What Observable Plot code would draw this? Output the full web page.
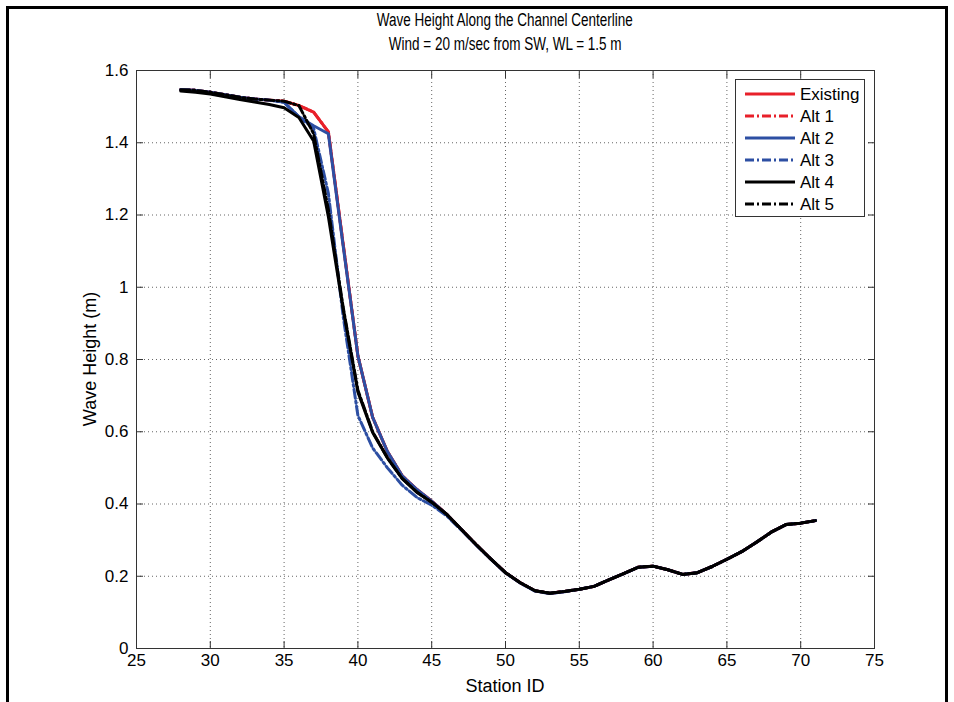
<!DOCTYPE html>
<html><head><meta charset="utf-8">
<script src="https://cdn.jsdelivr.net/npm/d3@7"></script>
<script src="https://cdn.jsdelivr.net/npm/@observablehq/plot@0.6"></script>
<style>
body{margin:0;background:#fff;}
#wrap{position:relative;width:954px;height:702px;overflow:hidden;font-family:"Liberation Sans",Arial,Helvetica,sans-serif;color:#000;}
#frame{position:absolute;left:6px;top:6px;width:936px;height:740px;border:3px solid #000;pointer-events:none;}
#chart{position:absolute;left:0;top:0;}
.title{position:absolute;left:136px;width:738px;text-align:center;font-size:18px;white-space:nowrap;}
.title span{display:inline-block;transform:scaleX(0.75);transform-origin:center;}
#xlab{position:absolute;left:136px;width:738px;top:676px;text-align:center;font-size:18px;}
#ylab{position:absolute;left:90px;top:359px;font-size:18px;white-space:nowrap;transform:translate(-50%,-50%) rotate(-90deg);}
#legend{position:absolute;left:735px;top:79px;width:130px;height:138px;border:1px solid #333;background:#fff;box-sizing:border-box;}
</style></head>
<body><div id="wrap">
<div id="chart"></div>
<div class="title" style="top:10px"><span>Wave Height Along the Channel Centerline</span></div>
<div class="title" style="top:34px"><span>Wind = 20 m/sec from SW, WL = 1.5 m</span></div>
<div id="xlab">Station ID</div>
<div id="ylab">Wave Height (m)</div>
<div id="legend"></div>
<div id="frame"></div>
</div>
<script>
// Station IDs (x)
const stations = [28,29,30,31,32,33,34,35,36,37,38,39,40,41,42,43,44,45,46,47,48,49,50,51,52,53,54,55,56,57,58,59,60,61,62,63,64,65,66,67,68,69,70,71];
// Wave height (m) per alternative
const existing = [1.547,1.545,1.540,1.533,1.526,1.521,1.518,1.515,1.503,1.485,1.430,1.120,0.810,0.640,0.545,0.478,0.440,0.408,0.372,0.330,0.288,0.248,0.210,0.182,0.160,0.153,0.158,0.164,0.172,0.190,0.207,0.225,0.228,0.218,0.205,0.210,0.227,0.247,0.268,0.294,0.322,0.343,0.347,0.354];
const alt1 = [1.547,1.545,1.540,1.533,1.526,1.521,1.518,1.515,1.503,1.485,1.430,1.120,0.810,0.640,0.545,0.478,0.440,0.408,0.372,0.330,0.288,0.248,0.210,0.182,0.160,0.153,0.158,0.164,0.172,0.190,0.207,0.225,0.228,0.218,0.205,0.210,0.227,0.247,0.268,0.294,0.322,0.343,0.347,0.354];
const alt2 = [1.547,1.545,1.540,1.533,1.526,1.521,1.518,1.512,1.472,1.447,1.425,1.115,0.810,0.640,0.545,0.478,0.440,0.408,0.372,0.330,0.288,0.248,0.210,0.182,0.160,0.153,0.158,0.164,0.172,0.190,0.207,0.225,0.228,0.218,0.205,0.210,0.227,0.247,0.268,0.294,0.322,0.343,0.347,0.354];
const alt3 = [1.547,1.545,1.540,1.533,1.526,1.521,1.518,1.512,1.472,1.440,1.260,0.920,0.645,0.555,0.500,0.452,0.418,0.397,0.368,0.328,0.287,0.247,0.209,0.181,0.159,0.152,0.157,0.164,0.172,0.190,0.207,0.225,0.228,0.218,0.205,0.210,0.227,0.247,0.268,0.294,0.322,0.343,0.347,0.354];
const alt4 = [1.543,1.540,1.535,1.527,1.520,1.513,1.506,1.497,1.470,1.405,1.195,0.940,0.710,0.598,0.527,0.470,0.432,0.405,0.372,0.330,0.288,0.248,0.210,0.182,0.160,0.153,0.158,0.164,0.172,0.190,0.207,0.225,0.228,0.218,0.205,0.210,0.227,0.247,0.268,0.294,0.322,0.343,0.347,0.354];
const alt5 = [1.547,1.545,1.540,1.533,1.526,1.521,1.518,1.515,1.503,1.425,1.215,0.945,0.715,0.600,0.528,0.471,0.433,0.405,0.372,0.330,0.288,0.248,0.210,0.182,0.160,0.153,0.158,0.164,0.172,0.190,0.207,0.225,0.228,0.218,0.205,0.210,0.227,0.247,0.268,0.294,0.322,0.343,0.347,0.354];
const seriesNames = ["Existing","Alt 1","Alt 2","Alt 3","Alt 4","Alt 5"];
const xTicks = [25,30,35,40,45,50,55,60,65,70,75];
const yTicks = [0,0.2,0.4,0.6,0.8,1,1.2,1.4,1.6];

const RED = "#e8202a", BLUE = "#2d4fa3", BLACK = "#000000";
const DASHDOT = "9,3,2,3";
const styles = [
  {color: RED, dash: null},
  {color: RED, dash: DASHDOT},
  {color: BLUE, dash: null},
  {color: BLUE, dash: DASHDOT},
  {color: BLACK, dash: null},
  {color: BLACK, dash: DASHDOT}
];
const valueSets = [existing, alt1, alt2, alt3, alt4, alt5];

const lineMarks = valueSets.map((vals, k) => {
  const rows = vals.map((v, i) => ({station: stations[i], h: v, name: seriesNames[k]}));
  return Plot.line(rows, {x: "station", y: "h", stroke: styles[k].color, strokeWidth: 3,
    strokeDasharray: styles[k].dash, strokeLinejoin: "round"});
});

const chart = Plot.plot({
  width: 954, height: 702,
  marginLeft: 136, marginRight: 80, marginTop: 70, marginBottom: 54,
  style: {fontFamily: "'Liberation Sans', Arial, sans-serif", fontSize: "17px", color: "#000", background: "transparent", overflow: "visible"},
  x: {domain: [25, 75]},
  y: {domain: [0, 1.6]},
  marks: [
    Plot.gridX(xTicks, {stroke: "#666", strokeOpacity: 1, strokeDasharray: "1,3"}),
    Plot.gridY(yTicks, {stroke: "#666", strokeOpacity: 1, strokeDasharray: "1,3"}),
    ...lineMarks,
    Plot.frame({stroke: "#333"}),
    Plot.axisX(xTicks, {anchor: "bottom", tickSize: -7, tickPadding: 12, label: null, stroke: "#333", tickFormat: d => String(d)}),
    Plot.axisX(xTicks, {anchor: "top", tickSize: -7, tickFormat: () => "", label: null, stroke: "#333"}),
    Plot.axisY(yTicks, {anchor: "left", tickSize: -7, tickPadding: 15, label: null, stroke: "#333", tickFormat: d => String(d)}),
    Plot.axisY(yTicks, {anchor: "right", tickSize: -7, tickFormat: () => "", label: null, stroke: "#333"})
  ]
});
document.getElementById("chart").appendChild(chart);

// Legend
const leg = d3.select("#legend").append("svg").attr("width", 128).attr("height", 136);
seriesNames.forEach((name, k) => {
  const y = 14 + k * 22;
  leg.append("line").attr("x1", 9).attr("x2", 59).attr("y1", y).attr("y2", y)
    .attr("stroke", styles[k].color).attr("stroke-width", 3)
    .attr("stroke-dasharray", styles[k].dash);
  leg.append("text").attr("x", 64).attr("y", y).attr("dy", "0.36em")
    .attr("font-size", 17).attr("font-family", "'Liberation Sans', Arial, sans-serif").text(name);
});
</script>
</body></html>
